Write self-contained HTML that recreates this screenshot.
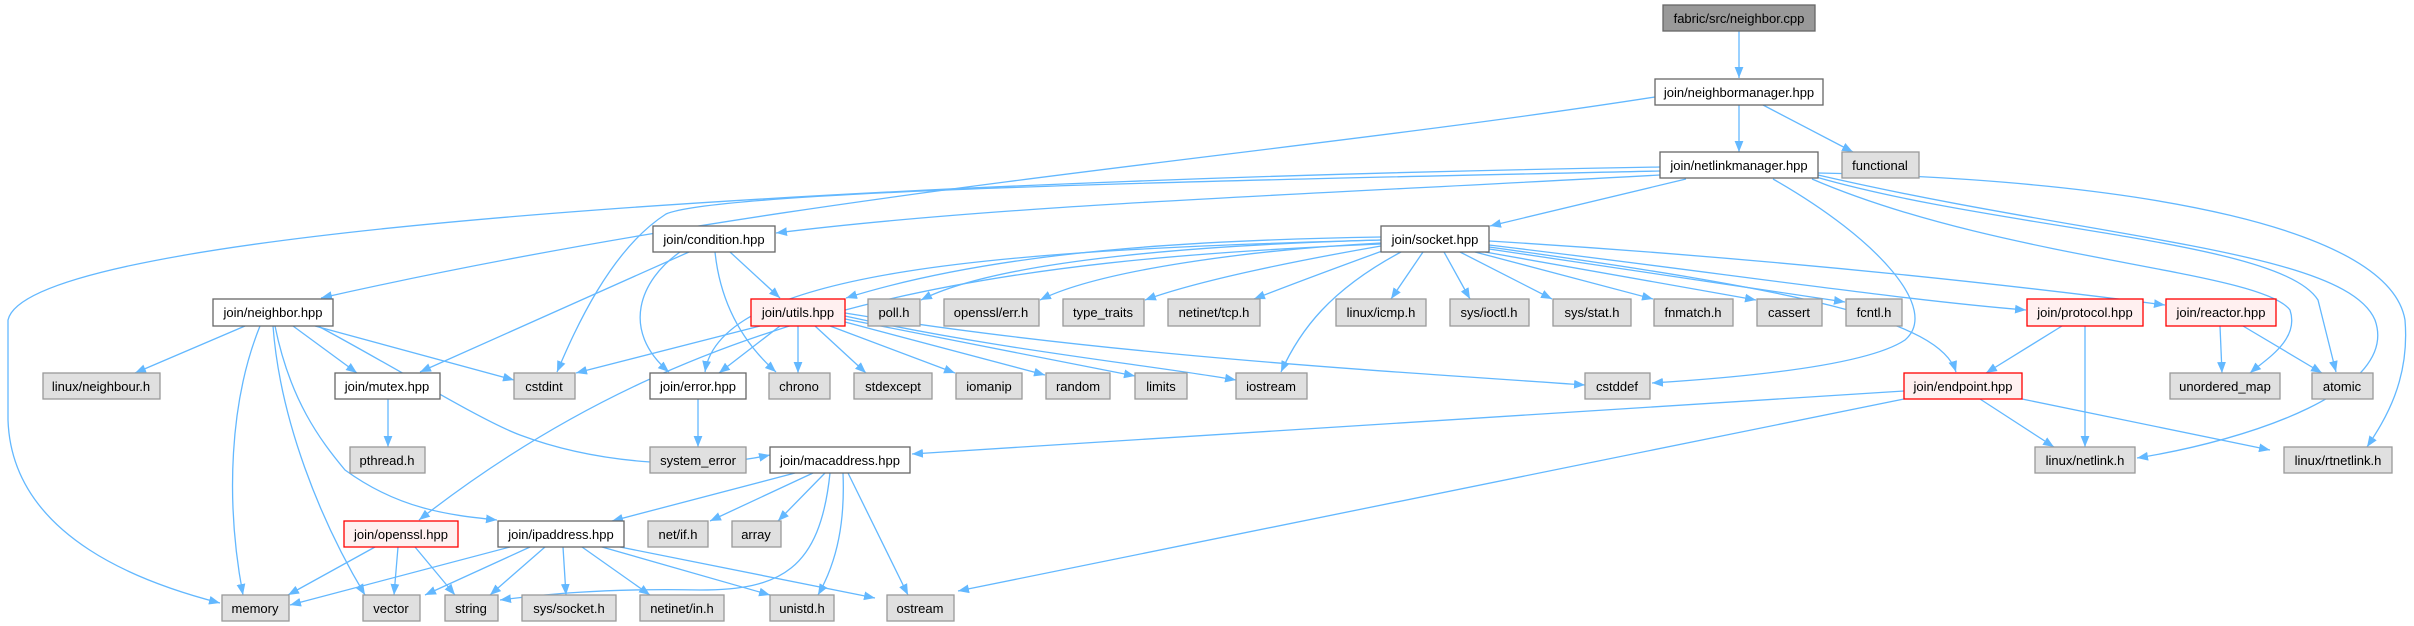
<!DOCTYPE html>
<html><head><meta charset="utf-8"><style>
html,body{margin:0;padding:0;background:#fff;}
svg{display:block;}
text{font-family:"Liberation Sans",Helvetica,sans-serif;font-size:13px;fill:#000;text-anchor:middle;}
.e{fill:none;stroke:#63b8ff;stroke-width:1.3;marker-end:url(#a);}
.w{fill:#fff;stroke:#666;stroke-width:1.3;}
.g{fill:#e0e0e0;stroke:#999;stroke-width:1.3;}
.r{fill:#fff0f0;stroke:#f00;stroke-width:1.3;}
.m{fill:#999;stroke:#666;stroke-width:1.3;}
</style></head><body>
<svg width="2414" height="626" viewBox="0 0 2414 626" xmlns="http://www.w3.org/2000/svg">
<defs><marker id="a" viewBox="0 0 10 10" refX="10" refY="5" markerWidth="11" markerHeight="11" markerUnits="userSpaceOnUse" orient="auto"><path d="M0,1 L10,5 L0,9 z" fill="#63b8ff"/></marker></defs>
<!-- edges -->
<path class="e" d="M1739,31 L1739,78"/>
<path class="e" d="M1739,105 L1739,152"/>
<path class="e" d="M1763,105 L1853,152"/>
<path class="e" d="M1655,97 C1250,160 800,190 321,298"/>
<path class="e" d="M1660,171 C1250,180 720,190 666,214 C610,250 575,330 557,372"/>
<path class="e" d="M1660,167 C1000,178 30,220 8,320 L8,420 C12,540 150,585 220,603"/>
<path class="e" d="M1660,175 C1300,195 1000,205 776,233"/>
<path class="e" d="M1686,179 L1490,226"/>
<path class="e" d="M1773,179 C1880,240 1940,310 1905,340 C1860,370 1700,380 1652,383"/>
<path class="e" d="M1812,179 C2000,260 2260,270 2290,310 C2300,340 2265,360 2250,373"/>
<path class="e" d="M1816,177 C2000,230 2280,240 2318,300 L2336,372"/>
<path class="e" d="M1818,175 C2100,240 2345,250 2375,320 C2400,390 2250,440 2137,458"/>
<path class="e" d="M1818,173 C2150,180 2390,230 2405,320 C2410,380 2385,420 2367,447"/>
<!-- socket -->
<path class="e" d="M1381,237 C1200,240 1000,250 846,298"/>
<path class="e" d="M1381,240 C1200,245 1000,260 921,300"/>
<path class="e" d="M1381,243 C1250,250 1100,270 1040,300"/>
<path class="e" d="M1381,246 C1300,260 1200,280 1145,300"/>
<path class="e" d="M1385,250 C1330,270 1290,285 1254,299"/>
<path class="e" d="M1423,252 L1391,299"/>
<path class="e" d="M1444,252 L1470,299"/>
<path class="e" d="M1460,252 L1552,299"/>
<path class="e" d="M1475,252 L1653,299"/>
<path class="e" d="M1485,252 L1756,300"/>
<path class="e" d="M1489,249 L1845,302"/>
<path class="e" d="M1489,245 C1700,270 1900,300 2026,310"/>
<path class="e" d="M1489,241 C1800,260 2050,290 2165,305"/>
<path class="e" d="M1401,252 C1330,290 1300,330 1281,372"/>
<path class="e" d="M1489,247 C1800,290 1940,320 1956,372"/>
<path class="e" d="M1381,240 C1000,250 720,270 705,372"/>
<path class="e" d="M1381,244 C1000,260 700,300 419,520"/>
<!-- condition -->
<path class="e" d="M689,252 L420,372"/>
<path class="e" d="M680,252 C640,280 620,330 669,372"/>
<path class="e" d="M715,252 C720,300 740,340 776,372"/>
<path class="e" d="M730,252 L780,298"/>
<!-- utils -->
<path class="e" d="M760,326 L576,373"/>
<path class="e" d="M780,326 L719,373"/>
<path class="e" d="M798,326 L798,373"/>
<path class="e" d="M815,326 L866,373"/>
<path class="e" d="M830,326 L955,373"/>
<path class="e" d="M845,322 L1045,375"/>
<path class="e" d="M845,319 L1135,376"/>
<path class="e" d="M845,316 C1000,350 1150,365 1236,380"/>
<path class="e" d="M845,313 C1100,355 1400,372 1585,385"/>
<path class="e" d="M698,399 L698,447"/>
<path class="e" d="M388,399 L388,447"/>
<!-- neighbor.hpp -->
<path class="e" d="M245,326 L135,373"/>
<path class="e" d="M260,326 C230,400 225,500 243,595"/>
<path class="e" d="M273,326 C280,420 320,520 365,595"/>
<path class="e" d="M293,326 L357,373"/>
<path class="e" d="M315,326 L514,380"/>
<path class="e" d="M318,326 C400,370 480,420 520,435 C600,465 700,470 770,455"/>
<path class="e" d="M275,326 C290,400 320,440 345,470 C400,510 450,515 497,520"/>
<!-- macaddress -->
<path class="e" d="M795,473 L612,521"/>
<path class="e" d="M813,473 L710,521"/>
<path class="e" d="M825,473 L778,521"/>
<path class="e" d="M830,473 C820,570 780,590 700,590 C600,588 540,595 500,600"/>
<path class="e" d="M843,473 C845,520 838,560 818,595"/>
<path class="e" d="M848,473 L908,595"/>
<!-- endpoint -->
<path class="e" d="M1904,391 L912,454"/>
<path class="e" d="M1904,399 L958,591"/>
<path class="e" d="M1980,399 L2054,447"/>
<path class="e" d="M2022,399 L2270,450"/>
<path class="e" d="M2062,326 L1986,373"/>
<path class="e" d="M2085,326 L2085,447"/>
<path class="e" d="M2220,326 L2222,373"/>
<path class="e" d="M2243,326 L2322,373"/>
<!-- openssl -->
<path class="e" d="M375,547 L288,595"/>
<path class="e" d="M398,547 L394,595"/>
<path class="e" d="M415,547 L455,595"/>
<!-- ipaddress -->
<path class="e" d="M510,547 L290,605"/>
<path class="e" d="M530,547 L425,595"/>
<path class="e" d="M545,547 L490,595"/>
<path class="e" d="M563,547 L566,595"/>
<path class="e" d="M582,547 L650,595"/>
<path class="e" d="M602,547 L770,595"/>
<path class="e" d="M620,547 L875,598"/>
<!-- nodes -->
<rect class="m" x="1663" y="5" width="152" height="26"/><text x="1739" y="23">fabric/src/neighbor.cpp</text>
<rect class="w" x="1655" y="79" width="168" height="26"/><text x="1739" y="97">join/neighbormanager.hpp</text>
<rect class="g" x="1842" y="152" width="77" height="26"/><text x="1880" y="170">functional</text>
<rect class="w" x="1660" y="152" width="158" height="26"/><text x="1739" y="170">join/netlinkmanager.hpp</text>
<rect class="w" x="653" y="226" width="122" height="26"/><text x="714" y="244">join/condition.hpp</text>
<rect class="w" x="1381" y="226" width="108" height="26"/><text x="1435" y="244">join/socket.hpp</text>
<rect class="w" x="213" y="299" width="120" height="27"/><text x="273" y="317">join/neighbor.hpp</text>
<rect class="r" x="751" y="299" width="94" height="27"/><text x="798" y="317">join/utils.hpp</text>
<rect class="g" x="868" y="299" width="52" height="27"/><text x="894" y="317">poll.h</text>
<rect class="g" x="944" y="299" width="95" height="27"/><text x="991" y="317">openssl/err.h</text>
<rect class="g" x="1063" y="299" width="81" height="27"/><text x="1103" y="317">type_traits</text>
<rect class="g" x="1168" y="299" width="92" height="27"/><text x="1214" y="317">netinet/tcp.h</text>
<rect class="g" x="1336" y="299" width="90" height="27"/><text x="1381" y="317">linux/icmp.h</text>
<rect class="g" x="1450" y="299" width="79" height="27"/><text x="1489" y="317">sys/ioctl.h</text>
<rect class="g" x="1553" y="299" width="78" height="27"/><text x="1592" y="317">sys/stat.h</text>
<rect class="g" x="1654" y="299" width="79" height="27"/><text x="1693" y="317">fnmatch.h</text>
<rect class="g" x="1757" y="299" width="65" height="27"/><text x="1789" y="317">cassert</text>
<rect class="g" x="1846" y="299" width="56" height="27"/><text x="1874" y="317">fcntl.h</text>
<rect class="r" x="2027" y="299" width="116" height="27"/><text x="2085" y="317">join/protocol.hpp</text>
<rect class="r" x="2166" y="299" width="110" height="27"/><text x="2221" y="317">join/reactor.hpp</text>
<rect class="g" x="43" y="373" width="117" height="26"/><text x="101" y="391">linux/neighbour.h</text>
<rect class="w" x="335" y="373" width="105" height="26"/><text x="387" y="391">join/mutex.hpp</text>
<rect class="g" x="514" y="373" width="61" height="26"/><text x="544" y="391">cstdint</text>
<rect class="w" x="650" y="373" width="96" height="26"/><text x="698" y="391">join/error.hpp</text>
<rect class="g" x="769" y="373" width="61" height="26"/><text x="799" y="391">chrono</text>
<rect class="g" x="854" y="373" width="78" height="26"/><text x="893" y="391">stdexcept</text>
<rect class="g" x="956" y="373" width="66" height="26"/><text x="989" y="391">iomanip</text>
<rect class="g" x="1046" y="373" width="64" height="26"/><text x="1078" y="391">random</text>
<rect class="g" x="1135" y="373" width="52" height="26"/><text x="1161" y="391">limits</text>
<rect class="g" x="1236" y="373" width="71" height="26"/><text x="1271" y="391">iostream</text>
<rect class="g" x="1585" y="373" width="65" height="26"/><text x="1617" y="391">cstddef</text>
<rect class="r" x="1904" y="373" width="118" height="26"/><text x="1963" y="391">join/endpoint.hpp</text>
<rect class="g" x="2170" y="373" width="110" height="26"/><text x="2225" y="391">unordered_map</text>
<rect class="g" x="2312" y="373" width="61" height="26"/><text x="2342" y="391">atomic</text>
<rect class="g" x="350" y="447" width="75" height="26"/><text x="387" y="465">pthread.h</text>
<rect class="g" x="650" y="447" width="96" height="26"/><text x="698" y="465">system_error</text>
<rect class="w" x="770" y="447" width="140" height="26"/><text x="840" y="465">join/macaddress.hpp</text>
<rect class="g" x="2035" y="447" width="100" height="26"/><text x="2085" y="465">linux/netlink.h</text>
<rect class="g" x="2284" y="447" width="108" height="26"/><text x="2338" y="465">linux/rtnetlink.h</text>
<rect class="r" x="344" y="521" width="114" height="26"/><text x="401" y="539">join/openssl.hpp</text>
<rect class="w" x="498" y="521" width="126" height="26"/><text x="561" y="539">join/ipaddress.hpp</text>
<rect class="g" x="648" y="521" width="60" height="26"/><text x="678" y="539">net/if.h</text>
<rect class="g" x="732" y="521" width="49" height="26"/><text x="756" y="539">array</text>
<rect class="g" x="222" y="595" width="67" height="26"/><text x="255" y="613">memory</text>
<rect class="g" x="363" y="595" width="57" height="26"/><text x="391" y="613">vector</text>
<rect class="g" x="445" y="595" width="53" height="26"/><text x="471" y="613">string</text>
<rect class="g" x="522" y="595" width="94" height="26"/><text x="569" y="613">sys/socket.h</text>
<rect class="g" x="640" y="595" width="84" height="26"/><text x="682" y="613">netinet/in.h</text>
<rect class="g" x="770" y="595" width="64" height="26"/><text x="802" y="613">unistd.h</text>
<rect class="g" x="887" y="595" width="67" height="26"/><text x="920" y="613">ostream</text>
</svg>
</body></html>
